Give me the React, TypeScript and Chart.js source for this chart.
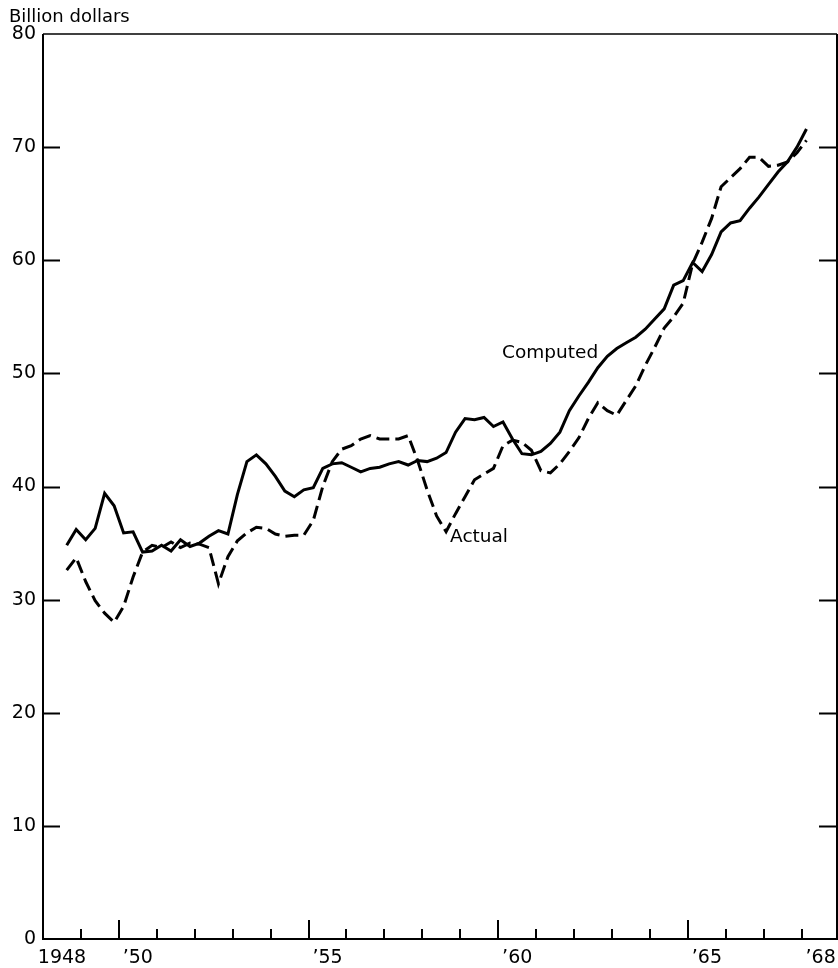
import React, { useEffect, useRef } from "react";
import { Chart, registerables } from "chart.js";
Chart.register(...registerables);

// Quarterly observations, 1948 Q3 through 1968 Q1 (plotted at mid-quarter)
const startYear = 1948;
const startQuarter = 3;
const computed: number[] = [
  34.8, 36.2, 35.3, 36.3, 39.4, 38.3, 35.9, 36.0, 34.2, 34.3,
  34.8, 34.3, 35.3, 34.7, 35.0, 35.6, 36.1, 35.8, 39.3, 42.2,
  42.8, 42.0, 40.9, 39.6, 39.1, 39.7, 39.9, 41.6, 42.0, 42.1,
  41.7, 41.3, 41.6, 41.7, 42.0, 42.2, 41.9, 42.3, 42.2, 42.5,
  43.0, 44.8, 46.0, 45.9, 46.1, 45.3, 45.7, 44.2, 42.9, 42.8,
  43.1, 43.8, 44.8, 46.7, 48.0, 49.2, 50.5, 51.5, 52.2, 52.7,
  53.2, 53.9, 54.8, 55.7, 57.8, 58.2, 59.8, 59.0, 60.5, 62.5,
  63.3, 63.5, 64.6, 65.6, 66.7, 67.8, 68.7, 70.0, 71.6,
];
const actual: number[] = [
  32.6, 33.7, 31.6, 29.9, 28.8, 28.0, 29.4, 32.0, 34.2, 34.8,
  34.6, 35.1, 34.6, 35.0, 34.9, 34.6, 31.4, 33.8, 35.2, 35.9,
  36.4, 36.3, 35.8, 35.6, 35.7, 35.7, 37.0, 40.0, 42.2, 43.3,
  43.6, 44.2, 44.5, 44.2, 44.2, 44.2, 44.5, 42.3, 39.7, 37.4,
  36.0, 37.6, 39.1, 40.6, 41.1, 41.6, 43.6, 44.1, 43.9, 43.2,
  41.4, 41.2, 42.0, 43.1, 44.3, 46.0, 47.4, 46.7, 46.3, 47.6,
  48.9, 50.7, 52.3, 54.0, 55.0, 56.2, 59.7, 61.6, 63.7, 66.5,
  67.3, 68.1, 69.1, 69.1, 68.3, 68.4, 68.7, 69.5, 70.6,
];

const xLabelYears: number[] = [1948, 1950, 1955, 1960, 1965, 1968];
const xLabelTexts: string[] = ["1948", "\u201950", "\u201955", "\u201960", "\u201965", "\u201968"];
const minorTickYears: number[] = [1949, 1950, 1951, 1952, 1953, 1954, 1955, 1956, 1957, 1958, 1959, 1960, 1961, 1962, 1963, 1964, 1965, 1966, 1967, 1968];
const majorTickYears: number[] = [1950, 1955, 1960, 1965];
const yTickValues: number[] = [10, 20, 30, 40, 50, 60, 70];

const xMin = 1948;
const xMax = 1968.93;
const FONT = "DejaVu Sans";

const quarterX = (i: number) => startYear + (startQuarter - 1) * 0.25 + 0.125 + i * 0.25;

const framePlugin = {
  id: "frame",
  afterDraw(chart: any) {
    const { ctx, chartArea, scales } = chart;
    const { left, right, top, bottom } = chartArea;
    const x = scales.x;
    const y = scales.y;
    ctx.save();
    ctx.strokeStyle = "#000";
    ctx.lineCap = "butt";
    ctx.lineWidth = 2;
    ctx.beginPath();
    ctx.moveTo(left, top);
    ctx.lineTo(left, bottom);
    ctx.lineTo(right, bottom);
    ctx.lineTo(right, top);
    ctx.stroke();
    ctx.lineWidth = 1.5;
    ctx.beginPath();
    ctx.moveTo(left, top);
    ctx.lineTo(right, top);
    ctx.stroke();

    ctx.lineWidth = 2;
    ctx.beginPath();
    for (const v of yTickValues) {
      const py = Math.round(y.getPixelForValue(v)) + 0.5;
      ctx.moveTo(left, py);
      ctx.lineTo(left + 17, py);
      ctx.moveTo(right - 18, py);
      ctx.lineTo(right, py);
    }
    for (const yr of minorTickYears) {
      const px = Math.round(x.getPixelForValue(yr));
      const len = majorTickYears.includes(yr) ? 19 : 10;
      ctx.moveTo(px, bottom);
      ctx.lineTo(px, bottom - len);
    }
    ctx.stroke();

    ctx.fillStyle = "#000";
    ctx.textAlign = "left";
    ctx.textBaseline = "alphabetic";
    ctx.font = `18px "${FONT}"`;
    ctx.fillText("Billion dollars", 9, 22);

    ctx.font = `18.5px "${FONT}"`;
    ctx.fillText("Computed", x.getPixelForValue(1960.1), y.getPixelForValue(51.4));
    ctx.fillText("Actual", x.getPixelForValue(1958.73), y.getPixelForValue(35.1));
    ctx.restore();
  },
};

export default function App() {
  const ref = useRef<HTMLCanvasElement | null>(null);
  useEffect(() => {
    document.body.style.margin = "0";
    if (!ref.current) return;
    Chart.defaults.font.family = FONT;
    Chart.defaults.font.size = 19;
    Chart.defaults.color = "#000";
    const chart = new Chart(ref.current, {
      type: "line",
      data: {
        datasets: [
          {
            label: "Actual",
            data: actual.map((v, i) => ({ x: quarterX(i), y: v })),
            borderColor: "#000",
            borderWidth: 3,
            borderDash: [13, 6],
            pointRadius: 0,
            tension: 0,
            fill: false,
          },
          {
            label: "Computed",
            data: computed.map((v, i) => ({ x: quarterX(i), y: v })),
            borderColor: "#000",
            borderWidth: 3,
            pointRadius: 0,
            tension: 0,
            fill: false,
          },
        ],
      },
      options: {
        responsive: false,
        animation: false,
        layout: { padding: { top: 34, right: 1, left: 0, bottom: 0 } },
        plugins: { legend: { display: false }, tooltip: { enabled: false } },
        scales: {
          x: {
            type: "linear",
            min: xMin,
            max: xMax,
            grid: { display: false, drawTicks: false },
            border: { display: false },
            afterBuildTicks: (scale: any) => {
              scale.ticks = xLabelYears.map((yr) => ({ value: yr + 0.5 }));
            },
            afterFit: (scale: any) => {
              scale.height = 29;
              scale.paddingLeft = 0;
              scale.paddingRight = 0;
            },
            ticks: {
              autoSkip: false,
              maxRotation: 0,
              padding: 8,
              font: { size: 19, family: FONT },
              callback: (value: any) => {
                const idx = xLabelYears.findIndex((yr) => Math.abs(yr + 0.5 - Number(value)) < 0.01);
                return idx >= 0 ? xLabelTexts[idx] : "";
              },
            },
          },
          y: {
            type: "linear",
            min: 0,
            max: 80,
            grid: { display: false, drawTicks: false },
            border: { display: false },
            afterFit: (scale: any) => {
              scale.width = 43;
              scale.paddingTop = 0;
              scale.paddingBottom = 0;
            },
            ticks: {
              stepSize: 10,
              padding: 7,
              font: { size: 19, family: FONT },
            },
          },
        },
      },
      plugins: [framePlugin],
    });
    return () => chart.destroy();
  }, []);
  return <canvas ref={ref} width={838} height={968} style={{ display: "block" }} />;
}
